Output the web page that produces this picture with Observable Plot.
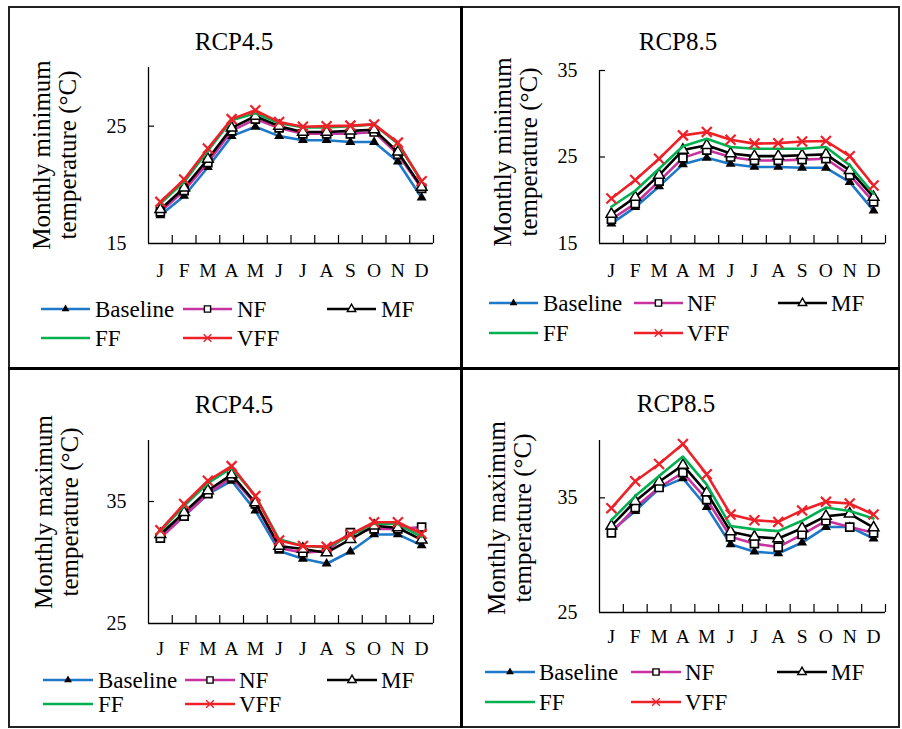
<!DOCTYPE html>
<html><head><meta charset="utf-8">
<script src="https://cdn.jsdelivr.net/npm/d3@7"></script>
<script src="https://cdn.jsdelivr.net/npm/@observablehq/plot@0.6"></script>
<style>
body{margin:0;background:#fff;}
#root{position:relative;width:902px;height:729px;background:#fff;font-family:"Liberation Serif","Times New Roman",serif;color:#000;overflow:hidden}
.abs{position:absolute}
.title{font-size:25px;transform:translate(-50%,-50%);white-space:nowrap}
.ylab{font-size:25px;line-height:26px;text-align:center;white-space:nowrap;transform:translate(-50%,-50%) rotate(-90deg)}
</style></head><body><div id="root"></div><script>
// ---- data ----
const months = ["J","F","M","A","M","J","J","A","S","O","N","D"];
const seriesNames = ["Baseline","NF","MF","FF","VFF"];

// Monthly minimum temperature, RCP4.5
const tmin45Baseline = [17.4,19.05,21.5,24.15,24.95,24.15,23.8,23.8,23.65,23.65,21.97,18.9];
const tmin45NF  = [17.7,19.5,21.9,24.6,25.6,24.85,24.35,24.35,24.35,24.5,22.6,19.7];
const tmin45MF  = [17.9,19.75,22.2,24.85,25.85,25.0,24.5,24.5,24.6,24.7,22.8,19.8];
const tmin45FF  = [18.4,20.25,22.9,25.5,26.1,25.25,24.9,24.9,25.0,25.15,23.5,20.3];
const tmin45VFF = [18.55,20.45,23.1,25.6,26.35,25.35,24.95,25.0,25.05,25.15,23.6,20.3];

// Monthly minimum temperature, RCP8.5
const tmin85Baseline = [17.3,19.2,21.6,24.15,24.9,24.2,23.85,23.85,23.75,23.75,22.1,18.8];
const tmin85NF  = [17.8,19.6,22.2,24.9,25.8,25.0,24.6,24.6,24.7,24.8,22.9,19.8];
const tmin85MF  = [18.4,20.35,22.9,25.8,26.35,25.4,25.1,25.1,25.2,25.3,23.45,20.35];
const tmin85FF  = [19.25,21.1,23.65,26.25,27.1,26.15,25.95,25.95,25.95,26.15,24.05,20.75];
const tmin85VFF = [20.2,22.35,24.8,27.5,27.9,27.0,26.55,26.6,26.8,26.85,25.1,21.7];

// Monthly maximum temperature, RCP4.5
const tmax45Baseline = [32.1,33.8,35.6,36.7,34.25,30.95,30.3,29.9,30.9,32.3,32.3,31.4];
const tmax45NF  = [32.0,33.8,35.65,37.0,34.8,31.2,30.8,30.95,32.45,32.75,32.75,32.9];
const tmax45MF  = [32.3,34.1,35.9,37.2,34.9,31.35,31.1,30.8,31.9,33.0,32.85,31.85];
const tmax45FF  = [32.55,34.65,36.5,37.75,35.45,31.9,31.35,31.25,32.2,33.2,33.15,32.1];
const tmax45VFF = [32.65,34.8,36.7,37.9,35.45,31.8,31.35,31.3,32.3,33.3,33.3,32.35];

// Monthly maximum temperature, RCP8.5
const tmax85Baseline = [32.1,33.85,35.8,36.7,34.2,30.95,30.3,30.15,31.1,32.45,32.45,31.45];
const tmax85NF  = [31.95,34.15,35.9,37.2,34.85,31.6,31.0,30.7,31.8,33.0,32.45,31.95];
const tmax85MF  = [32.55,34.7,36.4,37.85,35.45,32.05,31.6,31.45,32.35,33.4,33.6,32.4];
const tmax85FF  = [33.05,35.15,36.9,38.6,36.15,32.55,32.25,32.1,33.0,34.15,33.85,33.2];
const tmax85VFF = [34.1,36.45,37.95,39.7,37.05,33.55,33.05,32.9,33.9,34.65,34.5,33.55];

const panelTitles = ["RCP4.5","RCP8.5","RCP4.5","RCP8.5"];
const yLabelMin = ["Monthly minimum","temperature (°C)"];
const yLabelMax = ["Monthly maximum","temperature (°C)"];
const yTicksMin45 = [15,25];
const yTicksMin85 = [15,25,35];
const yTicksMax = [25,35];

// ---- styles ----
const FONT = "'Liberation Serif','Times New Roman',serif";
const styles = {
  Baseline: {stroke:"#1E78C8", symbol:"triangle", fill:"#000", mstroke:"none", r:3.7, sw:0},
  NF:       {stroke:"#C8329E", symbol:"square", fill:"#fff", mstroke:"#000", r:4.5, sw:1.7},
  MF:       {stroke:"#000000", symbol:"triangle", fill:"#fff", mstroke:"#000", r:4.0, sw:1.5},
  FF:       {stroke:"#00B050", symbol:null},
  VFF:      {stroke:"#EE2028", symbol:"times", fill:"none", mstroke:"#EE2028", r:4.6, sw:2.2}
};

const panels = [
  {series:[tmin45Baseline,tmin45NF,tmin45MF,tmin45FF,tmin45VFF], ydom:[15,30], yticks:yTicksMin45,
   frame:{l:148,r:433,t:67,b:243}, monthDy:27, title:{x:234,y:42}, ylab:{x:55,y:155,lines:yLabelMin},
   legend:{rows:[309,338], cols:[[41,90,95],[183,232,237],[327,376,381]]}},
  {series:[tmin85Baseline,tmin85NF,tmin85MF,tmin85FF,tmin85VFF], ydom:[15,35], yticks:yTicksMin85,
   frame:{l:599,r:885,t:70,b:243}, monthDy:27, title:{x:678,y:42}, ylab:{x:516,y:152,lines:yLabelMin},
   legend:{rows:[303,333], cols:[[489,538,543],[634,683,687],[778,827,831]]}},
  {series:[tmax45Baseline,tmax45NF,tmax45MF,tmax45FF,tmax45VFF], ydom:[25,40], yticks:yTicksMax,
   frame:{l:148,r:433,t:440,b:623}, monthDy:25, title:{x:234,y:405}, ylab:{x:57,y:512,lines:yLabelMax},
   legend:{rows:[680,704], cols:[[43,93,98],[185,235,239],[327,377,381]]}},
  {series:[tmax85Baseline,tmax85NF,tmax85MF,tmax85FF,tmax85VFF], ydom:[25,40], yticks:yTicksMax,
   frame:{l:599,r:885,t:440,b:612}, monthDy:24, title:{x:676,y:404}, ylab:{x:510,y:518,lines:yLabelMax},
   legend:{rows:[672,702], cols:[[485,535,539],[631,681,685],[777,827,831]]}}
];

const root = document.getElementById("root");

// borders
function box(l,t,w,h,css){const d=document.createElement("div");d.className="abs";Object.assign(d.style,{left:l+"px",top:t+"px",width:w+"px",height:h+"px",boxSizing:"border-box"},css);root.appendChild(d);return d;}
box(8,6,892,722,{border:"2px solid #222"});
box(459.5,6,3.5,722,{background:"#000"});
box(8,366.5,892,3.5,{background:"#000"});

panels.forEach((p,pi)=>{
  const mL=60, mR=12, mT=12, mB=40;
  const w = p.frame.r-p.frame.l, h = p.frame.b-p.frame.t;
  const ymin = p.ydom[0];
  const marks = [
    Plot.ruleY([ymin],{stroke:"#000",strokeWidth:1.3}),
    Plot.ruleX([0],{stroke:"#000",strokeWidth:1.3}),
    Plot.tickX(d3.range(1,13),{x:d=>d,stroke:"#000",strokeWidth:1.2,insetTop:h-8}),
    Plot.tickY(p.yticks.filter(v=>v>ymin),{y:d=>d,stroke:"#000",strokeWidth:1.2,insetRight:w-6}),
    Plot.text(p.yticks,{y:d=>d,text:d=>String(d),frameAnchor:"left",dx:-22,textAnchor:"end",fontSize:20}),
    Plot.text(months,{x:(d,i)=>i+0.5,y:()=>ymin,text:d=>d,dy:p.monthDy,fontSize:19.5})
  ];
  p.series.forEach((vals,si)=>{
    const s = styles[seriesNames[si]];
    marks.push(Plot.line(vals,{x:(d,i)=>i+0.5,y:d=>d,stroke:s.stroke,strokeWidth:2.6}));
    if(s.symbol){
      marks.push(Plot.dot(vals,{x:(d,i)=>i+0.5,y:d=>d,symbol:s.symbol,r:s.r,fill:s.fill,stroke:s.mstroke,strokeWidth:s.sw}));
    }
  });
  const svg = Plot.plot({
    width:w+mL+mR, height:h+mT+mB, marginLeft:mL, marginRight:mR, marginTop:mT, marginBottom:mB,
    x:{domain:[0,12],axis:null}, y:{domain:p.ydom,axis:null},
    style:{fontFamily:FONT,background:"transparent",overflow:"visible",color:"#000"},
    marks
  });
  svg.classList.add("abs");
  svg.style.left=(p.frame.l-mL)+"px"; svg.style.top=(p.frame.t-mT)+"px";
  root.appendChild(svg);

  const t=document.createElement("div"); t.className="abs title"; t.textContent=panelTitles[pi];
  t.style.left=p.title.x+"px"; t.style.top=p.title.y+"px"; root.appendChild(t);

  const yl=document.createElement("div"); yl.className="abs ylab"; yl.innerHTML=p.ylab.lines.join("<br>");
  yl.style.left=p.ylab.x+"px"; yl.style.top=p.ylab.y+"px"; root.appendChild(yl);
});

// legends
const ov = d3.select(root).append("svg").attr("class","abs").attr("width",902).attr("height",729)
  .style("left","0px").style("top","0px").style("pointer-events","none").style("font-family",FONT);
const symMap = {triangle:d3.symbolTriangle, square:d3.symbolSquare, times:d3.symbolTimes};
panels.forEach(p=>{
  seriesNames.forEach((name,si)=>{
    const s = styles[name];
    const row = si<3?0:1, col = si<3?si:si-3;
    const [x1,x2,tx] = p.legend.cols[col]; const y = p.legend.rows[row];
    const g = ov.append("g");
    g.append("line").attr("x1",x1).attr("x2",x2).attr("y1",y).attr("y2",y).attr("stroke",s.stroke).attr("stroke-width",2.6);
    if(s.symbol){
      const rr = s.r*0.78;
      const size = Math.PI*rr*rr;
      g.append("path").attr("transform",`translate(${(x1+x2)/2},${y})`)
        .attr("d",d3.symbol(symMap[s.symbol],size)())
        .attr("fill",s.fill).attr("stroke",s.mstroke).attr("stroke-width",Math.min(s.sw,1.4));
    }
    g.append("text").attr("x",tx).attr("y",y).attr("dy","0.35em").attr("font-size",23).text(name);
  });
});
</script></body></html>
